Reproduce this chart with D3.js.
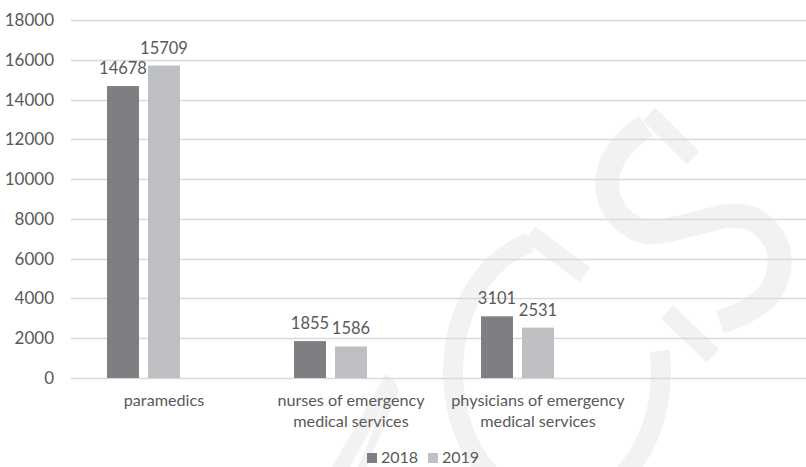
<!DOCTYPE html>
<html>
<head>
<meta charset="utf-8">
<script src="https://cdn.jsdelivr.net/npm/d3@7/dist/d3.min.js"></script>
<style>
  html, body { margin: 0; padding: 0; background: #fff; }
  svg { display: block; }
  text { font-family: Lato, "Liberation Sans", sans-serif; fill: #595959; }
</style>
</head>
<body>
<svg id="chart" width="806" height="467"></svg>
<script>
// ---- data ----
const categories = ["paramedics", "nurses of emergency medical services", "physicians of emergency medical services"];
const categoryLines = [["paramedics"], ["nurses of emergency", "medical services"], ["physicians of emergency", "medical services"]];
const seriesNames = ["2018", "2019"];
const values2018 = [14678, 1855, 3101];
const values2019 = [15709, 1586, 2531];
const yTicks = [0, 2000, 4000, 6000, 8000, 10000, 12000, 14000, 16000, 18000];
const seriesColors = ["#7e7f83", "#bebfc2"];

const svg = d3.select("#chart");
const W = 806, H = 467;

// ---- watermark (faint logo) ----
const wmColor = "#f2f2f2";
const wm = svg.append("g").attr("fill", "none").attr("stroke", wmColor);
// big C (elliptical arc)
const cx = 557, cy = 372, rx = 104, ry = 134;
const cPts = d3.range(255, -11, -3).map(t => {
  const a = t * Math.PI / 180;
  return [cx + rx * Math.cos(a), cy + ry * Math.sin(a)];
});
wm.append("path").attr("d", d3.line().curve(d3.curveBasis)(cPts)).attr("stroke-width", 20);
wm.append("line").attr("x1", 530).attr("y1", 234).attr("x2", 585).attr("y2", 275).attr("stroke-width", 18);
// S
const sPts = [[646,126],[625,143],[609,170],[609,198],[623,220],[646,232],[690,225],[728,216],[755,220],[776,243],[779,270],[768,295],[745,312],[720,322]];
wm.append("path").attr("d", d3.line().curve(d3.curveCatmullRom)(sPts)).attr("stroke-width", 24);
wm.append("line").attr("x1", 649).attr("y1", 114).attr("x2", 693).attr("y2", 158).attr("stroke-width", 18);
wm.append("line").attr("x1", 667).attr("y1", 312).attr("x2", 713).attr("y2", 356).attr("stroke-width", 18);
// lower-left strokes
wm.append("polygon").attr("points", "386,374 396,382 350,467 332,467").attr("fill", wmColor).attr("stroke", "none");
wm.append("polygon").attr("points", "394,380 399,390 367,467 358,467").attr("fill", wmColor).attr("stroke", "none");

// ---- scales ----
const y = d3.scaleLinear().domain([0, 18000]).range([378, 20]);
const x0 = d3.scaleBand().domain(categories).range([70.5, 70.5 + 187 * 3]).paddingInner(0).paddingOuter(0);
const x1 = d3.scaleBand().domain([...seriesNames, "_"]).range([36.5, 150.5]).paddingInner(0.2195).paddingOuter(0);

// ---- gridlines ----
svg.append("g").selectAll("line").data(yTicks).join("line")
  .attr("x1", 71).attr("x2", W)
  .attr("y1", d => Math.round(y(d)) + 0.5).attr("y2", d => Math.round(y(d)) + 0.5)
  .attr("stroke", "#d9d9d9").attr("stroke-width", 1.3);

// ---- y axis labels ----
const yAxis = d3.axisLeft(y).tickValues(yTicks).tickSize(0).tickPadding(0).tickFormat(d3.format("d"));
const ya = svg.append("g").attr("transform", "translate(54,0)").call(yAxis);
ya.select(".domain").remove();
ya.selectAll("text").attr("font-size", 17).style("font-family", "Lato, 'Liberation Sans', sans-serif").attr("fill", "#595959");

// ---- bars ----
const seriesValues = [values2018, values2019];
const groups = svg.append("g").selectAll("g").data(categories).join("g")
  .attr("transform", d => `translate(${x0(d)},0)`);

groups.selectAll("rect").data((d, i) => seriesNames.map((s, j) => ({ s, v: seriesValues[j][i], c: seriesColors[j] }))).join("rect")
  .attr("x", d => x1(d.s))
  .attr("width", x1.bandwidth())
  .attr("y", d => y(d.v))
  .attr("height", d => y(0) - y(d.v))
  .attr("fill", d => d.c);

groups.selectAll("text.val").data((d, i) => seriesNames.map((s, j) => ({ s, v: seriesValues[j][i] }))).join("text")
  .attr("class", "val")
  .attr("x", d => x1(d.s) + x1.bandwidth() / 2)
  .attr("y", d => y(d.v) - 12)
  .attr("text-anchor", "middle")
  .attr("font-size", 16.5)
  .text(d => d.v);

// ---- category labels ----
categories.forEach((c, i) => {
  const t = svg.append("text")
    .attr("x", x0(c) + x0.bandwidth() / 2)
    .attr("y", 406)
    .attr("text-anchor", "middle")
    .attr("font-size", 16.2);
  categoryLines[i].forEach((ln, k) => {
    t.append("tspan").attr("x", x0(c) + x0.bandwidth() / 2).attr("y", 406 + k * 21).text(ln);
  });
});

// ---- legend ----
const legendX = [367, 428];
seriesNames.forEach((s, j) => {
  svg.append("rect").attr("x", legendX[j]).attr("y", 453).attr("width", 10).attr("height", 10).attr("fill", seriesColors[j]);
  svg.append("text").attr("x", legendX[j] + 14).attr("y", 463).attr("font-size", 16).text(s);
});
</script>
</body>
</html>
